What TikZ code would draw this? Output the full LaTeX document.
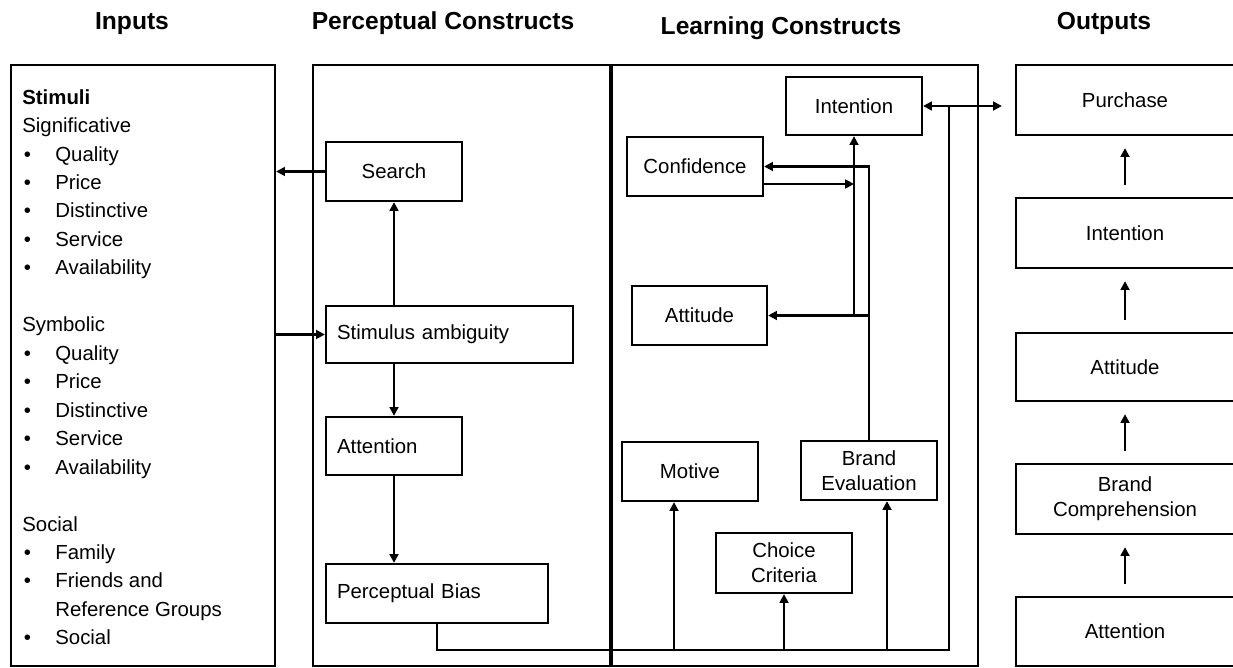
\documentclass[tikz,border=0pt]{standalone}
\usepackage{fontspec}
\setmainfont{Liberation Sans}
\usetikzlibrary{arrows.meta,calc}

\tikzset{
  hdr/.style={font=\bfseries\fontsize{14}{16}\selectfont, anchor=base},
  box/.style={draw, line width=1.3pt, inner sep=0pt, align=center,
    minimum width=2.72cm, minimum height=1.18cm, font=\fontsize{11.6}{14.3}\selectfont},
  lbox/.style={box, align=left, inner xsep=0.22cm},
  obox/.style={box, minimum width=4.36cm, minimum height=1.38cm},
  frame/.style={draw, line width=1.3pt},
  link/.style={line width=1.3pt},
  arr/.style={line width=1.3pt, -{Triangle[length=5pt,width=5pt]}},
}
\newcommand{\itm}[1]{\makebox[0.66cm][l]{\hspace{0.03cm}\textbullet}#1}

\begin{document}
\begin{tikzpicture}[x=0.02cm,y=-0.02cm]
  \useasboundingbox (0,0) rectangle (1233,668);

  % headings
  \node[hdr] (hin) at (132,30) {Inputs};
  \node[hdr] (hper) at (443,30) {Perceptual Constructs};
  \node[hdr] (hlea) at (781,35) {Learning Constructs};
  \node[hdr] (hout) at (1104,30) {Outputs};

  % column frames
  \node[frame, inner sep=0pt, minimum width=5.28cm, minimum height=12.02cm] (inputs) at (143,365.5) {};
  \draw[frame] (313,65) rectangle (610,666);
  \draw[frame] (612,65) rectangle (978,666);

  % inputs
  \node[anchor=north west, inner sep=0pt, align=left, font=\fontsize{11.6}{16.2}\selectfont] (stim) at (22,89) {%
    \textbf{Stimuli}\\
    Significative\\
    \itm{Quality}\\
    \itm{Price}\\
    \itm{Distinctive}\\
    \itm{Service}\\
    \itm{Availability}\\[16.2pt]
    Symbolic\\
    \itm{Quality}\\
    \itm{Price}\\
    \itm{Distinctive}\\
    \itm{Service}\\
    \itm{Availability}\\[16.2pt]
    Social\\
    \itm{Family}\\
    \itm{Friends and}\\
    \hspace*{0.66cm}Reference Groups\\
    \itm{Social}};

  % perceptual constructs
  \node[box] (search) at (394,171.5) {Search};
  \node[lbox, minimum width=4.94cm, text width=4.5cm, minimum height=1.14cm] (ambig) at (449.5,334.5) {Stimulus ambiguity};
  \node[lbox, text width=2.28cm, minimum height=1.16cm] (pattn) at (394,446) {Attention};
  \node[lbox, minimum width=4.44cm, text width=4.0cm] (bias) at (437,593.5) {Perceptual Bias};

  % learning constructs
  \node[box, minimum height=1.16cm] (lint) at (854,106) {Intention};
  \node[box] (conf) at (695,166.5) {Confidence};
  \node[box, minimum width=2.7cm] (latt) at (699.5,315.5) {Attitude};
  \node[box] (motive) at (690,471.5) {Motive};
  \node[box] (beval) at (869,470.5) {Brand\\Evaluation};
  \node[box, minimum height=1.2cm] (choice) at (784,563) {Choice\\Criteria};

  % outputs
  \node[obox, minimum height=1.4cm] (opur) at (1125,100) {Purchase};
  \node[obox, minimum height=1.4cm] (oint) at (1125,233) {Intention};
  \node[obox, minimum height=1.36cm] (oatt) at (1125,367) {Attitude};
  \node[obox, minimum height=1.4cm] (obc) at (1125,499) {Brand\\Comprehension};
  \node[obox] (oattn) at (1125,631.5) {Attention};

  \foreach \a/\b in {oattn/obc,obc/oatt,oatt/oint,oint/opur}
    \draw[arr, shorten <=0.24cm, shorten >=0.24cm] (\a.north) -- (\b.south);

  % perceptual links
  \draw[arr] (search.west) -- (search.west -| inputs.east);
  \draw[arr] (ambig.west -| inputs.east) -- (ambig.west);
  \draw[arr] (ambig.north -| search.south) -- (search.south);
  \draw[arr] (ambig.south -| pattn.north) -- (pattn.north);
  \draw[arr] (pattn.south) -- (bias.north -| pattn.south);

  % bias feeds the learning side
  \coordinate (busL) at ($(bias.south)+(0,26)$);
  \coordinate (jct) at ($(lint.east)+(26,0)$);
  \draw[link] (bias.south) -- (busL) -- (jct |- busL) -- (jct);
  \draw[arr] (jct) -- (lint.east);
  \draw[arr, shorten >=0.26cm] (jct) -- (jct -| opur.west);

  \coordinate (mot) at ([xshift=-0.32cm]motive.south);
  \coordinate (bev) at ([xshift=0.36cm]beval.south);
  \draw[arr] (mot |- busL) -- (mot);
  \draw[arr] (choice.south |- busL) -- (choice.south);
  \draw[arr] (bev |- busL) -- (bev);

  % evaluation loop
  \draw[link] (beval.north) -- (beval.north |- latt.east);
  \draw[arr] (beval.north |- latt.east) -- (beval.north |- conf.east) -- (conf.east);
  \draw[arr] (beval.north |- latt.east) -- (latt.east);
  \draw[arr] (lint.south |- latt.east) -- (lint.south);
  \coordinate (cfo) at ([yshift=-0.35cm]conf.east);
  \draw[arr] (cfo) -- (cfo -| lint.south);
\end{tikzpicture}
\end{document}
